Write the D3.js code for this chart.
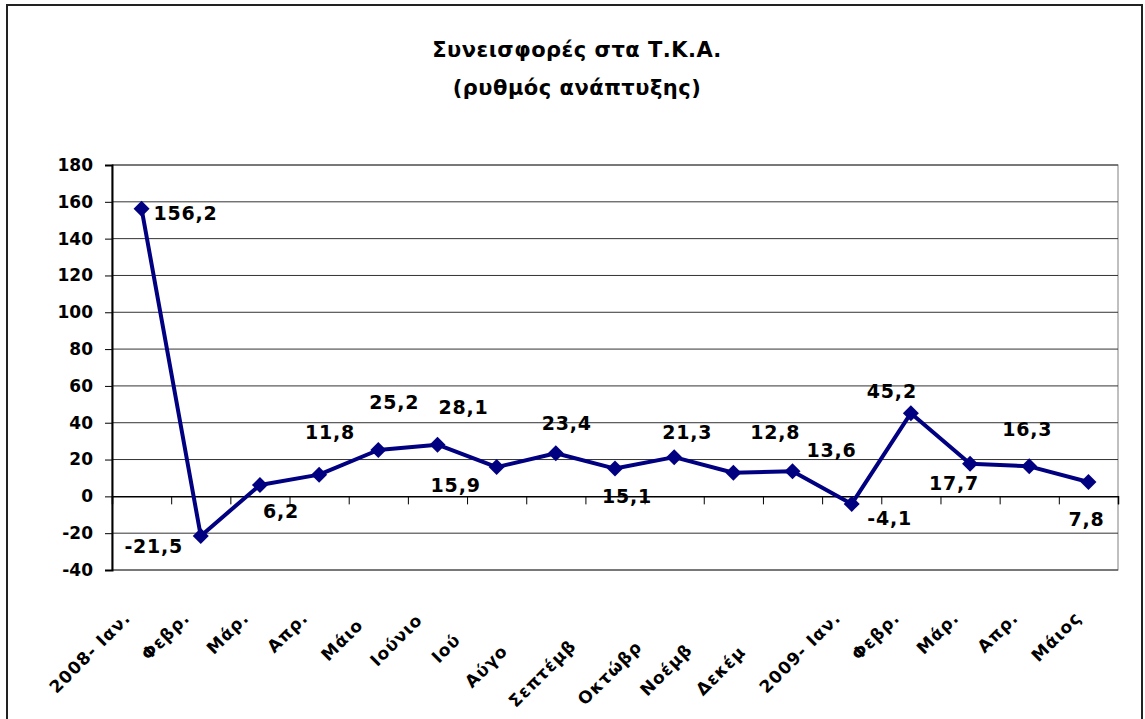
<!DOCTYPE html>
<html>
<head>
<meta charset="utf-8">
<script src="https://cdn.jsdelivr.net/npm/d3@7"></script>
<style>
  body { margin: 0; background: #fff; }
  svg { display: block; font-family: "Comic Sans MS", "DejaVu Sans", sans-serif; font-weight: bold; }
</style>
</head>
<body>
<svg width="1145" height="719"></svg>
<script>
const svg = d3.select("svg");

// chart data
const months = ["2008- Ιαν.", "Φεβρ.", "Μάρ.", "Απρ.", "Μάιο", "Ιούνιο", "Ιού", "Αύγο",
  "Σεπτέμβ", "Οκτώβρ", "Νοέμβ", "Δεκέμ", "2009- Ιαν.", "Φεβρ.", "Μάρ.", "Απρ.", "Μάιος"];
const growth = [156.2, -21.5, 6.2, 11.8, 25.2, 28.1, 15.9, 23.4, 15.1, 21.3, 12.8, 13.6, -4.1, 45.2, 17.7, 16.3, 7.8];
const yTicks = [-40, -20, 0, 20, 40, 60, 80, 100, 120, 140, 160, 180];
const title = ["Συνεισφορές στα Τ.Κ.Α.", "(ρυθμός ανάπτυξης)"];

// where each value label sits relative to its point (dx, dy)
const labelOffsets = [[44, 4], [-47, 10], [21, 26], [11, -42], [16, -48], [26, -37], [-41, 18], [11, -30],
  [12, 28], [13, -25], [42, -41], [39, -21], [38, 14], [-19, -22], [-16, 19], [-2, -37], [-2, 37]];
// extra shift for the x labels that Excel pushed down (clipped ones)
const tickShift = [[0, 0], [0, 0], [0, 0], [0, 0], [-4, 7], [-4, 2], [-25, 22], [-37, 33],
  [-28, 28], [-21, 29], [-30, 32], [-36, 34], [0, 0], [0, 0], [0, 0], [0, 0], [4, 0]];

const plot = {left: 112, right: 1118, top: 165, bottom: 570};

const x = d3.scaleBand()
  .domain(d3.range(months.length))
  .range([plot.left, plot.right]);

const y = d3.scaleLinear()
  .domain([-40, 180])
  .range([plot.bottom, plot.top]);

const cx = i => x(i) + x.bandwidth() / 2;

// outer border
svg.append("rect")
  .attr("x", 7).attr("y", 5)
  .attr("width", 1135).attr("height", 730)
  .attr("fill", "#fff")
  .attr("stroke", "#222")
  .attr("stroke-width", 2);

// title
svg.append("g")
  .selectAll("text")
  .data(title)
  .join("text")
    .attr("x", 577)
    .attr("y", (d, i) => 57 + i * 38)
    .attr("text-anchor", "middle")
    .attr("font-size", 21)
    .attr("letter-spacing", 0.5)
    .attr("fill", "#000")
    .text(d => d);

// plot area frame
svg.append("rect")
  .attr("x", plot.left).attr("y", plot.top)
  .attr("width", plot.right - plot.left).attr("height", plot.bottom - plot.top)
  .attr("fill", "none")
  .attr("stroke", "#808080");

// gridlines
svg.append("g")
  .selectAll("line")
  .data(yTicks.filter(d => d !== 0))
  .join("line")
    .attr("x1", plot.left).attr("x2", plot.right)
    .attr("y1", d => y(d)).attr("y2", d => y(d))
    .attr("stroke", "#333")
    .attr("stroke-width", 1);

// y axis
const yAxis = svg.append("g")
  .attr("transform", `translate(${plot.left},0)`)
  .call(d3.axisLeft(y).tickValues(yTicks).tickSize(7).tickPadding(12).tickFormat(d => String(d)));
yAxis.attr("font-family", null).attr("font-size", null);
yAxis.select(".domain").attr("stroke", "#000").attr("stroke-width", 2);
yAxis.selectAll(".tick line").attr("stroke", "#000");
yAxis.selectAll(".tick text")
  .attr("font-size", 17)
  .attr("fill", "#000");

// x axis on the zero line
const xAxis = svg.append("g")
  .attr("transform", `translate(0,${y(0)})`)
  .call(d3.axisBottom(d3.scaleLinear().domain([0, months.length]).range([plot.left, plot.right]))
    .tickValues(d3.range(1, months.length + 1))
    .tickSize(8)
    .tickFormat(""));
xAxis.select(".domain").attr("stroke", "#000").attr("stroke-width", 1.5);
xAxis.selectAll(".tick line").attr("stroke", "#000");

// category labels, rotated
svg.append("g")
  .selectAll("text")
  .data(months)
  .join("text")
    .attr("transform", (d, i) => {
      const bx = cx(i) - 10 + tickShift[i][0];
      const by = 619 + tickShift[i][1];
      return `translate(${bx},${by}) rotate(-45)`;
    })
    .attr("text-anchor", "end")
    .attr("font-size", 17)
    .attr("letter-spacing", 1)
    .attr("fill", "#000")
    .text(d => d);

// line
const line = d3.line()
  .x((d, i) => cx(i))
  .y(d => y(d));

svg.append("path")
  .datum(growth)
  .attr("d", line)
  .attr("fill", "none")
  .attr("stroke", "#000080")
  .attr("stroke-width", 4)
  .attr("stroke-linejoin", "round");

// diamond markers
svg.append("g")
  .selectAll("path")
  .data(growth)
  .join("path")
    .attr("d", d3.symbol().type(d3.symbolSquare).size(128))
    .attr("transform", (d, i) => `translate(${cx(i)},${y(d)}) rotate(45)`)
    .attr("fill", "#000080");

// value labels
svg.append("g")
  .selectAll("text")
  .data(growth)
  .join("text")
    .attr("x", (d, i) => cx(i) + labelOffsets[i][0])
    .attr("y", (d, i) => y(d) + labelOffsets[i][1])
    .attr("dy", "0.36em")
    .attr("text-anchor", "middle")
    .attr("font-size", 19)
    .attr("letter-spacing", 0.8)
    .attr("fill", "#000")
    .text(d => String(d).replace(".", ","));
</script>
</body>
</html>
